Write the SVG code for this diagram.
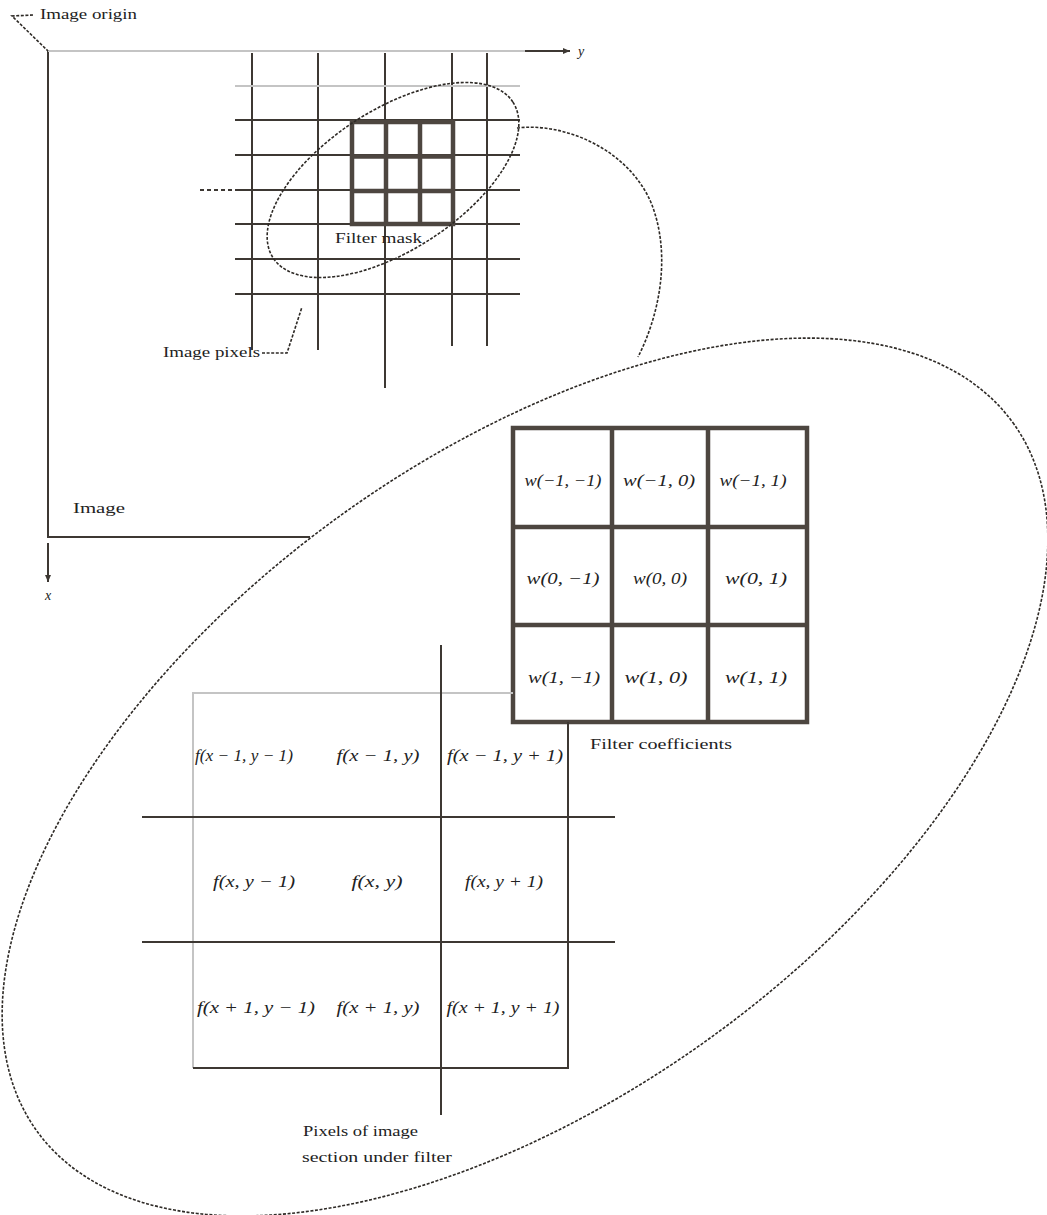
<svg xmlns="http://www.w3.org/2000/svg" width="1047" height="1215" viewBox="0 0 1047 1215">
<style>
.ln{stroke:#3d3833;stroke-width:2;fill:none}
.thk{stroke:#4d4640;stroke-width:4.5;fill:none}
.lt{stroke:#c4c4c4;stroke-width:2;fill:none}
.rough{stroke:#2e2a26;stroke-width:1.6;fill:none;stroke-dasharray:3 1.6}
.lbl{font-family:"Liberation Serif","DejaVu Serif",serif;font-size:14px;fill:#222}
.m{font-family:"Liberation Serif","DejaVu Serif",serif;font-size:16px;font-style:italic;fill:#222;text-anchor:middle}
</style>
<defs>
<marker id="arr" markerWidth="8" markerHeight="8" refX="7" refY="4" orient="auto" markerUnits="userSpaceOnUse">
<path d="M0,1 L7,4 L0,7 Z" fill="#3d3833"/>
</marker>
</defs>
<rect width="1047" height="1215" fill="#fff"/>

<g id="big-ellipse">
<ellipse cx="525" cy="777" rx="603" ry="320" transform="rotate(-36 525 777)" class="rough"/>
</g>

<g id="image-frame">
<line x1="48" y1="51" x2="48" y2="537" class="ln"/>
<line x1="48" y1="51" x2="562" y2="51" class="lt" stroke="#bdbdbd"/>
<line x1="47" y1="537" x2="310" y2="537" class="ln"/>
<line x1="48" y1="543" x2="48" y2="582" class="ln" marker-end="url(#arr)"/>
<text x="48" y="600" class="lbl" text-anchor="middle" font-style="italic">x</text>
<line x1="525" y1="51" x2="570" y2="51" class="ln" marker-end="url(#arr)"/>
<text x="578" y="56" class="lbl" font-style="italic">y</text>
<text x="73" y="513" class="lbl" textLength="52" lengthAdjust="spacingAndGlyphs">Image</text>
<text x="40" y="19" class="lbl" textLength="97" lengthAdjust="spacingAndGlyphs">Image origin</text>
</g>

<g id="pixel-grid">
<line x1="252" y1="53" x2="252" y2="350" class="ln"/>
<line x1="318" y1="53" x2="318" y2="350" class="ln"/>
<line x1="385" y1="53" x2="385" y2="388" class="ln"/>
<line x1="452" y1="53" x2="452" y2="346" class="ln"/>
<line x1="487" y1="53" x2="487" y2="346" class="ln"/>
<line x1="235" y1="86" x2="520" y2="86" class="lt" stroke="#b0aca8"/>
<line x1="235" y1="120" x2="520" y2="120" class="ln"/>
<line x1="235" y1="155" x2="520" y2="155" class="ln"/>
<line x1="235" y1="190" x2="520" y2="190" class="ln"/>
<line x1="200" y1="190" x2="235" y2="190" class="ln" stroke-dasharray="4 3"/>
<line x1="235" y1="224" x2="520" y2="224" class="ln"/>
<line x1="235" y1="259" x2="520" y2="259" class="ln"/>
<line x1="235" y1="294" x2="520" y2="294" class="ln"/>
<text x="163" y="357" class="lbl" textLength="97" lengthAdjust="spacingAndGlyphs">Image pixels</text>
</g>

<g id="filter-mask">
<rect x="352" y="122" width="101" height="102" class="thk"/>
<line x1="386" y1="122" x2="386" y2="224" class="thk"/>
<line x1="420" y1="122" x2="420" y2="224" class="thk"/>
<line x1="352" y1="156.5" x2="453" y2="156.5" class="thk"/>
<line x1="352" y1="191" x2="453" y2="191" class="thk"/>
<text x="335" y="243" class="lbl" font-size="13" textLength="87" lengthAdjust="spacingAndGlyphs">Filter mask</text>
</g>

<g id="small-ellipse">
<ellipse cx="393" cy="180" rx="143" ry="70" transform="rotate(-33 393 180)" class="rough"/>
</g>

<g id="connectors">
<path d="M517,128 C565,122 630,150 652,205 C672,258 658,318 638,357" class="rough"/>
<polyline points="33,15 12,16 48,51" class="rough"/>
<polyline points="262,353 287,353 302,307" class="rough"/>
</g>

<g id="weights">
<rect x="513" y="428" width="294" height="294" class="thk"/>
<line x1="612" y1="428" x2="612" y2="722" class="thk"/>
<line x1="708" y1="428" x2="708" y2="722" class="thk"/>
<line x1="513" y1="527" x2="807" y2="527" class="thk"/>
<line x1="513" y1="625" x2="807" y2="625" class="thk"/>
<text x="563" y="486" class="m" textLength="77" lengthAdjust="spacingAndGlyphs">w(−1, −1)</text>
<text x="659" y="486" class="m" textLength="72" lengthAdjust="spacingAndGlyphs">w(−1, 0)</text>
<text x="753" y="486" class="m" textLength="67" lengthAdjust="spacingAndGlyphs">w(−1, 1)</text>
<text x="563" y="584" class="m" textLength="73" lengthAdjust="spacingAndGlyphs">w(0, −1)</text>
<text x="660" y="584" class="m" textLength="54" lengthAdjust="spacingAndGlyphs">w(0, 0)</text>
<text x="756" y="584" class="m" textLength="62" lengthAdjust="spacingAndGlyphs">w(0, 1)</text>
<text x="564" y="683" class="m" textLength="72" lengthAdjust="spacingAndGlyphs">w(1, −1)</text>
<text x="656" y="683" class="m" textLength="63" lengthAdjust="spacingAndGlyphs">w(1, 0)</text>
<text x="756" y="683" class="m" textLength="62" lengthAdjust="spacingAndGlyphs">w(1, 1)</text>
<text x="590" y="749" class="lbl" textLength="142" lengthAdjust="spacingAndGlyphs">Filter coefficients</text>
</g>

<g id="pixels">
<polyline points="193,1068 193,693 513,693" class="lt"/>
<polyline points="193,1068 568,1068 568,722" class="ln"/>
<line x1="142" y1="817" x2="615" y2="817" class="ln"/>
<line x1="142" y1="942" x2="615" y2="942" class="ln"/>
<line x1="441" y1="645" x2="441" y2="1115" class="ln"/>
<text x="244" y="761" class="m" textLength="98" lengthAdjust="spacingAndGlyphs">f(x − 1, y − 1)</text>
<text x="378" y="761" class="m" textLength="83" lengthAdjust="spacingAndGlyphs">f(x − 1, y)</text>
<text x="505" y="761" class="m" textLength="116" lengthAdjust="spacingAndGlyphs">f(x − 1, y + 1)</text>
<text x="254" y="887" class="m" textLength="82" lengthAdjust="spacingAndGlyphs">f(x, y − 1)</text>
<text x="377" y="887" class="m" textLength="51" lengthAdjust="spacingAndGlyphs">f(x, y)</text>
<text x="504" y="887" class="m" textLength="78" lengthAdjust="spacingAndGlyphs">f(x, y + 1)</text>
<text x="256" y="1013" class="m" textLength="118" lengthAdjust="spacingAndGlyphs">f(x + 1, y − 1)</text>
<text x="378" y="1013" class="m" textLength="83" lengthAdjust="spacingAndGlyphs">f(x + 1, y)</text>
<text x="503" y="1013" class="m" textLength="113" lengthAdjust="spacingAndGlyphs">f(x + 1, y + 1)</text>
<text x="303" y="1136" class="lbl" textLength="115" lengthAdjust="spacingAndGlyphs">Pixels of image</text>
<text x="302" y="1162" class="lbl" textLength="150" lengthAdjust="spacingAndGlyphs">section under filter</text>
</g>
</svg>
